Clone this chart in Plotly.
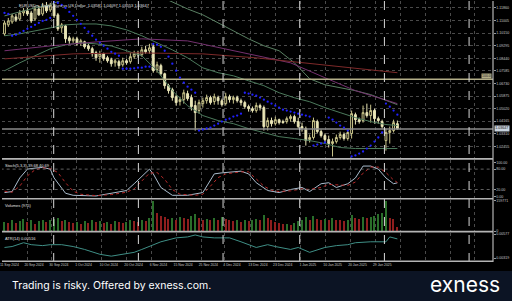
import plotly.graph_objects as go

# ---------------- data ----------------
opens = [1.1010,1.1071,1.1091,1.1125,1.1111,1.1152,1.1166,1.1152,1.1111,1.1179,
         1.1145,1.1199,1.1172,1.1199,1.1139,1.1051,1.1064,1.0983,1.0963,1.0976,
         1.0949,1.0956,1.0929,1.0909,1.0882,1.0855,1.0875,1.0848,1.0834,1.0814,
         1.0821,1.0800,1.0827,1.0821,1.0855,1.0875,1.0868,1.0902,1.0895,1.0922,
         1.0767,1.0794,1.0739,1.0658,1.0631,1.0583,1.0550,1.0563,1.0604,1.0577,
         1.0523,1.0489,1.0536,1.0556,1.0577,1.0550,1.0577,1.0556,1.0536,1.0583,
         1.0563,1.0577,1.0556,1.0543,1.0516,1.0502,1.0489,1.0523,1.0509,1.0380,
         1.0421,1.0400,1.0427,1.0414,1.0414,1.0434,1.0448,1.0414,1.0380,1.0367,
         1.0292,1.0306,1.0414,1.0346,1.0319,1.0292,1.0265,1.0278,1.0306,1.0326,
         1.0299,1.0333,1.0461,1.0427,1.0421,1.0475,1.0455,1.0489,1.0434,1.0414,
         1.0285,1.0340,1.0353,1.0400]
highs = [1.1098,1.1118,1.1145,1.1145,1.1172,1.1186,1.1186,1.1166,1.1199,1.1199,
         1.1220,1.1226,1.1220,1.1213,1.1152,1.1084,1.1071,1.0997,1.0990,1.0990,
         1.0976,1.0963,1.0942,1.0922,1.0895,1.0895,1.0882,1.0861,1.0848,1.0841,
         1.0834,1.0848,1.0841,1.0882,1.0895,1.0895,1.0922,1.0929,1.0942,1.0942,
         1.0821,1.0807,1.0746,1.0671,1.0644,1.0597,1.0583,1.0631,1.0624,1.0597,
         1.0556,1.0563,1.0577,1.0597,1.0590,1.0604,1.0590,1.0570,1.0610,1.0597,
         1.0590,1.0590,1.0570,1.0556,1.0529,1.0516,1.0543,1.0536,1.0523,1.0441,
         1.0441,1.0448,1.0434,1.0427,1.0448,1.0461,1.0461,1.0441,1.0407,1.0380,
         1.0326,1.0441,1.0427,1.0360,1.0333,1.0319,1.0299,1.0326,1.0346,1.0340,
         1.0360,1.0489,1.0475,1.0441,1.0523,1.0536,1.0529,1.0502,1.0448,1.0427,
         1.0367,1.0380,1.0427,1.0421]
lows = [1.0997,1.1057,1.1078,1.1091,1.1098,1.1132,1.1132,1.1084,1.1098,1.1132,
        1.1132,1.1152,1.1159,1.1118,1.1030,1.1017,1.0949,1.0942,1.0949,1.0929,
        1.0929,1.0909,1.0895,1.0855,1.0827,1.0814,1.0827,1.0814,1.0787,1.0787,
        1.0773,1.0787,1.0800,1.0807,1.0841,1.0848,1.0855,1.0875,1.0875,1.0746,
        1.0746,1.0726,1.0637,1.0604,1.0556,1.0523,1.0523,1.0536,1.0556,1.0489,
        1.0353,1.0468,1.0509,1.0536,1.0529,1.0529,1.0529,1.0516,1.0523,1.0543,
        1.0536,1.0543,1.0523,1.0502,1.0482,1.0475,1.0475,1.0489,1.0353,1.0353,
        1.0380,1.0387,1.0394,1.0400,1.0400,1.0414,1.0400,1.0367,1.0346,1.0251,
        1.0272,1.0292,1.0333,1.0306,1.0278,1.0238,1.0177,1.0265,1.0292,1.0285,
        1.0285,1.0299,1.0394,1.0400,1.0407,1.0441,1.0407,1.0400,1.0400,1.0367,
        1.0217,1.0265,1.0340,1.0360]
closes = [1.1084,1.1098,1.1132,1.1105,1.1152,1.1166,1.1145,1.1098,1.1179,1.1139,
          1.1199,1.1166,1.1206,1.1132,1.1044,1.1071,1.0976,1.0963,1.0976,1.0942,
          1.0963,1.0922,1.0909,1.0875,1.0848,1.0875,1.0841,1.0827,1.0807,1.0827,
          1.0794,1.0827,1.0814,1.0855,1.0875,1.0868,1.0902,1.0888,1.0915,1.0760,
          1.0800,1.0739,1.0658,1.0624,1.0577,1.0543,1.0563,1.0610,1.0570,1.0516,
          1.0475,1.0543,1.0556,1.0577,1.0543,1.0583,1.0556,1.0529,1.0583,1.0563,
          1.0577,1.0556,1.0543,1.0516,1.0502,1.0489,1.0523,1.0509,1.0380,1.0421,
          1.0400,1.0427,1.0407,1.0407,1.0434,1.0448,1.0414,1.0380,1.0367,1.0285,
          1.0306,1.0421,1.0346,1.0319,1.0292,1.0265,1.0278,1.0306,1.0326,1.0299,
          1.0340,1.0468,1.0427,1.0414,1.0475,1.0455,1.0489,1.0434,1.0421,1.0380,
          1.0340,1.0353,1.0407,1.0364]
sar = [1.1152,1.1145,1.0997,1.1003,1.1017,1.1030,1.1044,1.1057,1.1071,1.1084,1.1098,1.1105,1.1118,
       1.1226,1.1220,1.1206,1.1186,1.1159,1.1132,1.1105,1.1078,1.1051,1.1024,1.0997,1.0970,1.0949,
       1.0929,1.0909,1.0888,1.0875,1.0861,
       1.0773,1.0773,1.0773,1.0776,1.0780,1.0780,1.0787,1.0787,
       1.0942,1.0936,1.0922,1.0895,1.0855,1.0807,1.0760,1.0712,1.0678,1.0651,1.0631,1.0610,
       1.0353,1.0360,1.0367,1.0373,1.0387,1.0400,1.0414,1.0427,1.0434,1.0448,1.0455,1.0468,
       1.0610,1.0604,1.0597,1.0590,1.0577,1.0563,1.0549,1.0536,1.0522,1.0509,1.0495,1.0489,
       1.0482,1.0475,1.0468,1.0461,1.0455,1.0448,
       1.0251,1.0258,1.0265,1.0272,
       1.0441,1.0427,1.0407,1.0387,1.0373,1.0353,
       1.0177,1.0184,1.0197,1.0211,1.0231,1.0251,1.0278,1.0306,1.0340,
       1.0536,1.0515,1.0489,1.0461]

band_x = [0,4,8,12,16,20,24,28,32,36,40,44,48,52,56,60,64,68,72,76,80,84,88,92,96,100,103]
band_upper = [1.1132,1.1159,1.1186,1.1206,1.1253,1.1287,1.1287,1.1287,1.1287,1.1280,1.1274,
              1.1226,1.1179,1.1139,1.1084,1.1030,1.0976,1.0929,1.0895,1.0813,1.0705,1.0664,
              1.0644,1.0624,1.0597,1.0556,1.0529]
band_mid = [1.0997,1.1010,1.1030,1.1050,1.1071,1.1077,1.1077,1.1064,1.1037,1.0997,1.0949,
            1.0901,1.0847,1.0779,1.0746,1.0725,1.0691,1.0658,1.0610,1.0576,1.0549,1.0509,
            1.0475,1.0441,1.0414,1.0394,1.0387]
band_lower = [1.0759,1.0813,1.0861,1.0908,1.0935,1.0949,1.0942,1.0928,1.0895,1.0861,1.0759,
              1.0624,1.0522,1.0455,1.0421,1.0400,1.0366,1.0339,1.0312,1.0299,1.0285,1.0265,
              1.0238,1.0231,1.0231,1.0231,1.0231]
ma_purple_x = [0,12,24,36,48,60,66,75,84,92,103]
ma_purple = [1.0895,1.0928,1.0955,1.0976,1.0962,1.0895,1.0861,1.0813,1.0712,1.0624,1.0536]
ma_maroon_x = [0,18,34,52,66,86,103]
ma_maroon = [1.0840,1.0874,1.0881,1.0874,1.0847,1.0793,1.0746]

fib_100 = 1.0702
bid_price = 1.0364

stoch_x = [0,2,4,6,8,10,12,13,16,18,24,26,28,32,34,38,39,41,44,48,52,55,57,62,64,66,69,72,75,78,
           80,83,85,87,90,92,94,96,98,100,102,103]
stoch_main = [11,14,54,80,83,85,80,54,9,3,1,5,9,17,37,80,66,26,3,3,11,66,69,74,66,40,17,11,20,26,
              14,37,40,26,37,54,89,89,80,54,37,39.68]
signal_x = [0,2,4,6,8,10,12,14,16,18,20,24,28,32,34,36,38,40,42,44,46,50,52,54,56,58,62,64,66,68,
            70,72,75,78,80,83,85,87,90,92,94,96,98,100,102,103]
stoch_signal = [15,12,30,60,78,84,82,70,40,15,6,2,5,12,22,45,68,70,50,20,6,3,6,30,55,66,72,72,50,30,
                18,14,16,22,20,26,35,34,32,42,68,86,86,70,48,40.69]

volumes = [48000,42000,55000,40000,50000,62000,45000,58000,38000,52000,
           60000,47000,55000,65000,70000,52000,60000,48000,40000,45000,
           38000,50000,42000,55000,48000,52000,40000,45000,38000,50000,
           46000,42000,48000,55000,50000,45000,58000,52000,70000,159000,
           95000,80000,72000,65000,70000,60000,75000,68000,62000,80000,
           90000,70000,60000,65000,55000,70000,60000,72000,65000,58000,
           50000,55000,48000,60000,52000,58000,62000,55000,85000,70000,
           60000,48000,40000,35000,38000,30000,42000,50000,55000,75000,
           60000,80000,65000,58000,62000,55000,70000,60000,55000,50000,
           58000,85000,70000,62000,75000,68000,72000,80000,88000,95000,
           159771,70000,62000,18000]

atr_x = [0,2,5,7,10,12,15,18,21,25,28,31,34,36,39,41,45,48,50,52,55,59,62,64,66,69,71,75,77,80,
         84,87,90,92,96,100,101,103]
atr = [0.00433,0.00443,0.00484,0.00463,0.00453,0.00463,0.00463,0.00443,0.00412,0.00360,
       0.00340,0.00360,0.00381,0.00412,0.00463,0.00494,0.00536,0.00546,0.00567,0.00546,
       0.00536,0.00536,0.00494,0.00463,0.00433,0.00463,0.00443,0.00412,0.00433,0.00381,
       0.00433,0.00453,0.00463,0.00484,0.00494,0.00494,0.00546,0.00525]

price_ticks = [1.11860,1.11005,1.10150,1.09295,1.08440,1.07585,1.06730,1.05875,
               1.05020,1.04165,1.03310,1.02455]
date_labels = ["11 Sep 2024","20 Sep 2024","30 Sep 2024","1 Oct 2024","10 Oct 2024",
               "20 Oct 2024","6 Nov 2024","15 Nov 2024","25 Nov 2024","4 Dec 2024",
               "13 Dec 2024","23 Dec 2024","1 Jan 2025","10 Jan 2025","20 Jan 2025",
               "29 Jan 2025"]
date_label_bars = [-0.55,5.9,12.4,18.9,25.5,32.0,38.5,45.0,51.6,57.8,64.6,71.1,77.7,84.2,
                   90.7,97.2]
future_grid_bars = [103.8,110.3,116.8,123.3]
month_sep_bars = [12.9,35.1,57.3,77.4,99.6,121.8]

# ---------------- geometry ----------------
W, H = 512, 301
MR, MB = 19, 39
PW, PH = W - MR, H - MB
X0, DX = 2.5, 3.83
n = len(closes)
bars = list(range(n))

def pyp(y):  # pixel row -> paper fraction
    return (PH - y) / PH

FONT = "Liberation Sans, Arial, sans-serif"
LBL = dict(family=FONT, size=3.6, color="#c8c8c8")

fig = go.Figure()

for xs, ys, col, w in [(band_x, band_upper, "#5a8063", 1), (band_x, band_mid, "#4c7a5c", 1),
                       (band_x, band_lower, "#4c7a5c", 1),
                       (ma_purple_x, ma_purple, "#74306f", 1), (ma_maroon_x, ma_maroon, "#7e2a2a", 1)]:
    fig.add_trace(go.Scatter(x=xs, y=ys, mode="lines", line=dict(color=col, width=w),
                             xaxis="x", yaxis="y", hoverinfo="skip", showlegend=False))
fig.add_trace(go.Scatter(x=[-1, 130], y=[fib_100, fib_100], mode="lines",
                         line=dict(color="#b3ae88", width=1.6), hoverinfo="skip", showlegend=False))
fig.add_trace(go.Scatter(x=[-1, 130], y=[bid_price, bid_price], mode="lines",
                         line=dict(color="#8a8a8a", width=1.4), hoverinfo="skip", showlegend=False))
fig.add_trace(go.Candlestick(x=bars, open=opens, high=highs, low=lows, close=closes,
                             increasing=dict(line=dict(color="#c9c48a", width=1), fillcolor="#000000"),
                             decreasing=dict(line=dict(color="#e9e5b6", width=1), fillcolor="#e9e5b6"),
                             whiskerwidth=0, hoverinfo="skip", showlegend=False,
                             xaxis="x", yaxis="y"))
fig.add_trace(go.Scatter(x=bars, y=sar, mode="markers", marker=dict(color="#2020ff", size=2.3),
                         hoverinfo="skip", showlegend=False))

fig.add_trace(go.Scatter(x=stoch_x, y=stoch_main, mode="lines", line=dict(color="#a9bccd", width=1),
                         xaxis="x", yaxis="y2", hoverinfo="skip", showlegend=False))
fig.add_trace(go.Scatter(x=signal_x, y=stoch_signal, mode="lines",
                         line=dict(color="#b82a2a", width=1, dash="dot"),
                         xaxis="x", yaxis="y2", hoverinfo="skip", showlegend=False))
for lvl in (20, 80):
    fig.add_trace(go.Scatter(x=[-1, 130], y=[lvl, lvl], mode="lines",
                             line=dict(color="#777777", width=0.8, dash="dot"),
                             xaxis="x", yaxis="y2", hoverinfo="skip", showlegend=False))

vol_colors = ["#2a6e2a" if i == 0 or volumes[i] > volumes[i - 1] else "#8e1e1e" for i in range(n)]
fig.add_trace(go.Bar(x=bars, y=volumes, marker=dict(color=vol_colors, line=dict(width=0)), width=0.3,
                     xaxis="x", yaxis="y3", hoverinfo="skip", showlegend=False))

fig.add_trace(go.Scatter(x=atr_x, y=atr, mode="lines", line=dict(color="#3f8f86", width=1),
                         xaxis="x", yaxis="y4", hoverinfo="skip", showlegend=False))

axis_common = dict(side="right", anchor="x", zeroline=False, showline=False,
                   ticks="outside", ticklen=1.5, tickcolor="#999999", tickfont=LBL)

shapes = []
for b in month_sep_bars:
    shapes.append(dict(type="line", xref="x", yref="paper", x0=b, x1=b, y0=0, y1=1,
                       line=dict(color="#d8d8d8", width=1, dash="dash"), layer="above"))
for yy in (158.5, 198.5, 231.5, 261.3):
    shapes.append(dict(type="line", xref="paper", yref="paper", x0=0, x1=1, y0=pyp(yy), y1=pyp(yy),
                       line=dict(color="#b4b4b4", width=1.6), layer="above"))
shapes.append(dict(type="line", xref="paper", yref="paper", x0=1, x1=1, y0=0, y1=1,
                   line=dict(color="#b4b4b4", width=1.2), layer="above"))
shapes.append(dict(type="rect", xref="paper", yref="paper", x0=-0.02, x1=W / PW + 0.02,
                   y0=pyp(H + 5), y1=pyp(271), fillcolor="#0c1424", line=dict(width=0), layer="above"))

TXT = dict(family=FONT, size=4, color="#e0e0e0")
ann = []
ann.append(dict(x=15 / PW, y=pyp(0.5), xref="paper", yref="paper", xanchor="left", yanchor="top",
                text="EURUSDm, Daily:  Euro vs US Dollar  1.03581 1.04097 1.03553 1.03647",
                showarrow=False, font=TXT))
ann.append(dict(x=1 / PW, y=pyp(160.5), xref="paper", yref="paper", xanchor="left", yanchor="top",
                text="Stoch(5,3,3) 39.68 40.69", showarrow=False, font=TXT))
ann.append(dict(x=1 / PW, y=pyp(200.5), xref="paper", yref="paper", xanchor="left", yanchor="top",
                text="Volumes (975)", showarrow=False, font=TXT))
ann.append(dict(x=1 / PW, y=pyp(233.5), xref="paper", yref="paper", xanchor="left", yanchor="top",
                text="ATR(14) 0.00516", showarrow=False, font=TXT))
ann.append(dict(x=492 / PW, y=fib_100, xref="paper", yref="y", xanchor="right", yanchor="bottom",
                text="100.0", showarrow=False, bgcolor="#b3ae88", borderpad=0,
                font=dict(family=FONT, size=3.5, color="#222222")))
ann.append(dict(x=494 / PW, y=bid_price, xref="paper", yref="y", xanchor="left", yanchor="middle",
                text="1.03647", showarrow=False, bgcolor="#c9d3de", borderpad=0.3,
                font=dict(family=FONT, size=3.6, color="#101010")))
ann.append(dict(x=8 / PW, y=pyp(286), xref="paper", yref="paper", xanchor="left", yanchor="middle",
                text="Trading is risky. Offered by exness.com.", showarrow=False,
                font=dict(family="Inter, Lato, sans-serif", size=10.5, color="#ffffff")))
ann.append(dict(x=502 / PW, y=pyp(285), xref="paper", yref="paper", xanchor="right", yanchor="middle",
                text="exness", showarrow=False,
                font=dict(family="Inter, Lato, sans-serif", size=21, color="#ffffff")))

fig.update_layout(
    width=W, height=H, margin=dict(l=0, r=MR, t=0, b=MB, pad=0),
    paper_bgcolor="#000000", plot_bgcolor="#000000", showlegend=False,
    bargap=0,
    xaxis=dict(range=[(0 - X0) / DX, (PW - X0) / DX], anchor="free", position=0,
               tickvals=date_label_bars + future_grid_bars,
               ticktext=date_labels + [""] * len(future_grid_bars),
               ticklabelshift=7, ticklabeloverflow="allow", ticks="",
               tickfont=dict(family=FONT, size=3.4, color="#c8c8c8"),
               showgrid=True, gridcolor="#4a4a4a", griddash="dot", gridwidth=0.8,
               zeroline=False, showline=False, rangeslider=dict(visible=False), fixedrange=True),
    yaxis=dict(domain=[pyp(158), 1], range=[1.0164, 1.1233], tickvals=price_ticks,
               ticktext=["%.5f" % v for v in price_ticks], showgrid=True, gridcolor="#4a4a4a",
               griddash="dot", gridwidth=0.8, **axis_common),
    yaxis2=dict(domain=[pyp(198), pyp(160)], range=[-5.7, 105.7], tickvals=[0, 20, 80, 100],
                ticktext=["0.00", "20.00", "80.00", "100.00"], showgrid=False, **axis_common),
    yaxis3=dict(domain=[pyp(231), pyp(200)], range=[0, 163000], tickvals=[0, 159771],
                ticktext=["0", "159771"], showgrid=False, **axis_common),
    yaxis4=dict(domain=[pyp(261), pyp(233)], range=[0.00288, 0.00587], tickvals=[0.00319, 0.00577],
                ticktext=["0.00319", "0.00577"], showgrid=False, **axis_common),
    shapes=shapes, annotations=ann,
)

fig.write_html("out.html", config={"displayModeBar": False},
               post_script="document.body.style.margin='0';document.body.style.padding='0';"
                           "document.body.style.background='#000';")
